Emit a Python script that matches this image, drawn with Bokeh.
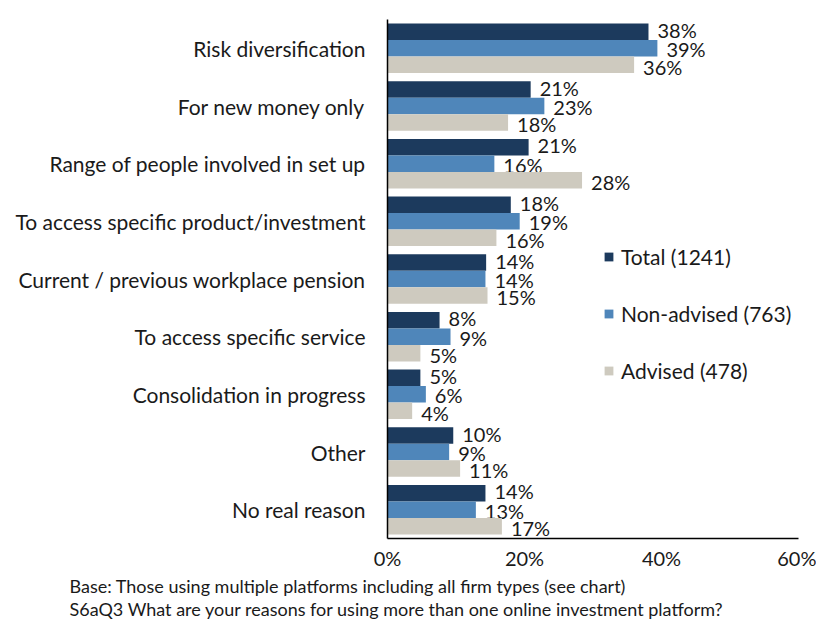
from bokeh.plotting import figure
from bokeh.models import (ColumnDataSource, FactorRange, Range1d, FixedTicker,
                          PrintfTickFormatter, Legend, LegendItem, Title)
from bokeh.transform import dodge
from bokeh.core.properties import value
from bokeh.embed import file_html
from bokeh.resources import INLINE

categories = [
    "Risk diversification",
    "For new money only",
    "Range of people involved in set up",
    "To access specific product/investment",
    "Current / previous workplace pension",
    "To access specific service",
    "Consolidation in progress",
    "Other",
    "No real reason",
]
total = [38.1, 20.9, 20.6, 18.0, 14.4, 7.6, 4.8, 9.6, 14.3]
non_advised = [39.4, 22.9, 15.6, 19.3, 14.3, 9.2, 5.6, 9.0, 12.9]
advised = [36.0, 17.6, 28.4, 15.9, 14.6, 4.8, 3.6, 10.6, 16.7]
series_names = ["Total (1241)", "Non-advised (763)", "Advised (478)"]
x_ticks = [0, 20, 40, 60]
footnotes = [
    "Base: Those using multiple platforms including all firm types (see chart)",
    "S6aQ3 What are your reasons for using more than one online investment platform?",
]

FONT = "Lato"
TXT = "#1a1a1a"
colors = ["#1C3A5D", "#4F86BA", "#CECABF"]
offsets = [0.286, 0.0, -0.286]
label_dy = [-2, 1, 2]
bar_h = 0.286

def pct(vals):
    return [f"{round(v)}%" for v in vals]

src = ColumnDataSource(dict(
    cat=categories,
    s0=total, s1=non_advised, s2=advised,
    l0=pct(total), l1=pct(non_advised), l2=pct(advised),
))

p = figure(width=816, height=622,
           y_range=FactorRange(*categories[::-1], range_padding=0),
           x_range=Range1d(0, 60),
           output_backend="svg", toolbar_location=None,
           min_border_left=387, min_border_right=18,
           min_border_top=19, min_border_bottom=84)

renderers = []
for i in range(3):
    r = p.hbar(y=dodge("cat", offsets[i], range=p.y_range), left=0, right=f"s{i}",
               height=bar_h, fill_color=colors[i], line_color=None, source=src)
    renderers.append(r)
    p.text(x=f"s{i}", y=dodge("cat", offsets[i], range=p.y_range), text=f"l{i}",
           x_offset=9, y_offset=label_dy[i], text_baseline="middle", text_align="left",
           text_font=value(FONT), text_font_size="20px", text_color=TXT, source=src)

legend = Legend(items=[LegendItem(label=series_names[i], renderers=[renderers[i]]) for i in range(3)],
                location=(216, 155), orientation="vertical",
                glyph_width=11, glyph_height=11, label_standoff=7, spacing=32,
                padding=0, margin=0, border_line_alpha=0, background_fill_alpha=0,
                label_text_font=FONT, label_text_font_size="21px", label_text_color=TXT)
p.add_layout(legend)

p.outline_line_color = None
p.xgrid.grid_line_color = None
p.ygrid.grid_line_color = None

for ax in (p.xaxis[0], p.yaxis[0]):
    ax.axis_line_color = "#000000"
    ax.axis_line_width = 1.5
    ax.major_tick_line_color = None
    ax.minor_tick_line_color = None
    ax.major_label_text_font = FONT
    ax.major_label_text_color = TXT

p.yaxis[0].major_label_text_font_size = "21px"
p.xaxis[0].major_label_text_font_size = "20px"
p.yaxis[0].major_label_standoff = 16
p.xaxis[0].ticker = FixedTicker(ticks=x_ticks)
p.xaxis[0].formatter = PrintfTickFormatter(format="%d%%")
p.xaxis[0].major_label_standoff = 1

for k, t in enumerate(footnotes):
    p.add_layout(Title(text=t, align="left", offset=-318, standoff=(1 if k == 0 else -3),
                       text_font=FONT, text_font_size="18px", text_font_style="normal",
                       text_color=TXT), "below")

open("out.html", "w").write(file_html(p, INLINE))
